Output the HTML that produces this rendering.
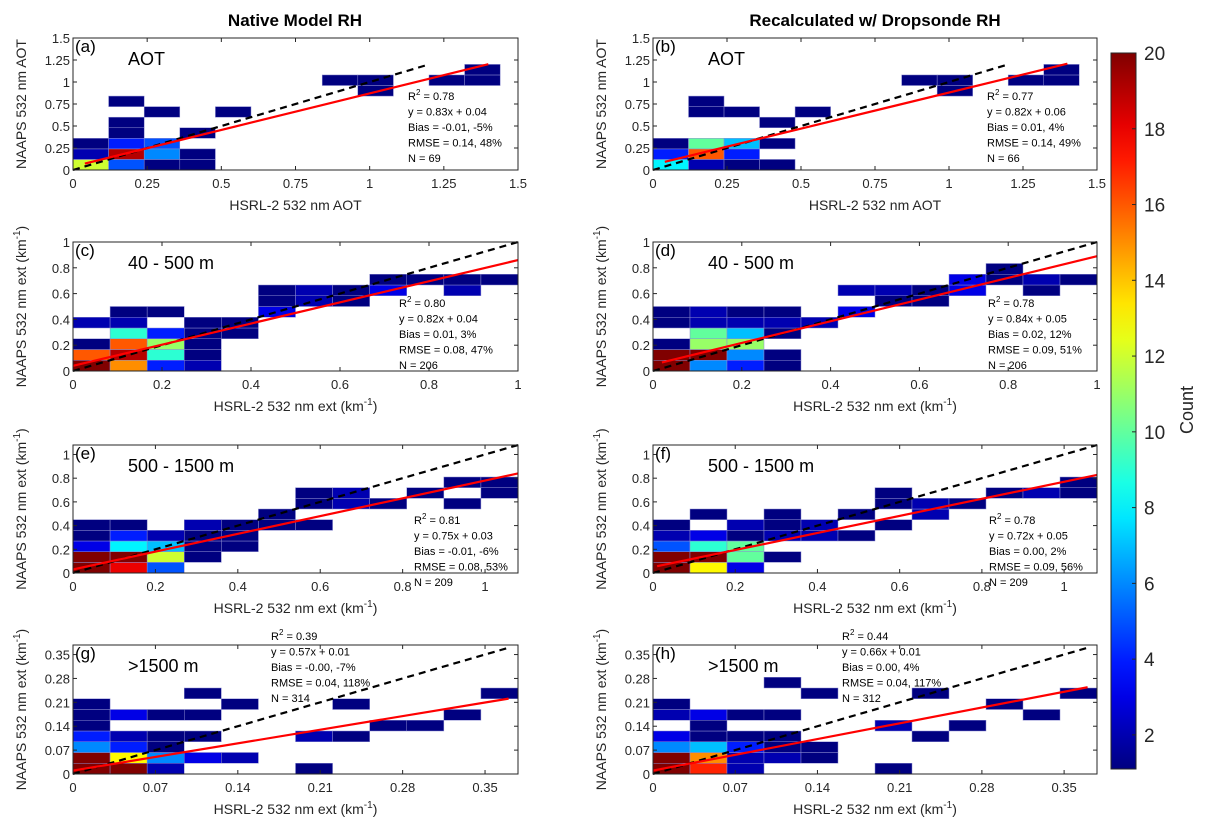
<!DOCTYPE html>
<html><head><meta charset="utf-8">
<style>
html,body{margin:0;padding:0;background:#fff;}
svg{display:block;font-family:"Liberation Sans",Arial,sans-serif;}
</style></head>
<body>
<svg id="fig" width="1207" height="839" viewBox="0 0 1207 839" xmlns="http://www.w3.org/2000/svg">
<text x="295" y="26" text-anchor="middle" font-size="17" font-weight="bold" fill="#000">Native Model RH</text>
<text x="875" y="26" text-anchor="middle" font-size="17" font-weight="bold" fill="#000">Recalculated w/ Dropsonde RH</text>
</svg>
<script>
// ---- data (grid cells: [xBin, yBin, count]) ----
const cellsA = [[0,0,12],[0,1,2],[0,2,1],[1,0,5],[1,1,19],[1,2,4],[1,3,1],[1,4,1],[1,6,1],[2,0,1],[2,1,6],[2,2,5],[2,5,1],[3,0,1],[3,1,1],[3,3,1],[4,5,1],[7,8,1],[8,8,1],[8,7,1],[10,8,1],[11,8,1],[11,9,1]];
const cellsB = [[0,0,8],[0,1,4],[0,2,1],[1,0,2],[1,1,16],[1,2,10],[1,5,1],[1,6,1],[2,0,1],[2,1,4],[2,2,7],[2,5,1],[3,0,1],[3,2,1],[3,4,1],[4,5,1],[7,8,1],[8,8,1],[8,7,1],[10,8,1],[11,8,1],[11,9,1]];
const cellsC = [[0,0,20],[1,0,15],[2,0,4],[3,0,2],[0,1,16],[1,1,19],[2,1,9],[3,1,1],[0,2,1],[1,2,16],[2,2,11],[3,2,1],[1,3,9],[2,3,4],[3,3,1],[4,3,1],[0,4,2],[1,4,2],[3,4,1],[4,4,1],[1,5,1],[2,5,1],[5,5,3],[5,6,1],[6,6,2],[7,6,1],[5,7,1],[6,7,2],[7,7,1],[8,7,3],[10,7,2],[8,8,1],[9,8,1],[10,8,1],[11,8,1]];
const cellsD = [[0,0,20],[1,0,6],[2,0,4],[3,0,1],[0,1,20],[1,1,20],[2,1,6],[3,1,1],[0,2,1],[1,2,11],[2,2,11],[1,3,10],[2,3,7],[3,3,1],[0,4,1],[1,4,2],[2,4,2],[3,4,2],[4,4,2],[0,5,1],[1,5,2],[2,5,1],[3,5,1],[5,5,3],[6,6,1],[7,6,1],[5,7,2],[6,7,2],[7,7,1],[8,7,3],[10,7,1],[8,8,3],[9,8,1],[10,8,2],[11,8,1],[9,9,1]];
const cellsE = [[0,0,20],[1,0,18],[2,0,5],[0,1,20],[1,1,20],[2,1,12],[3,1,1],[0,2,3],[1,2,8],[2,2,7],[3,2,1],[4,2,1],[0,3,1],[1,3,4],[2,3,2],[3,3,1],[4,3,1],[0,4,1],[1,4,1],[3,4,2],[4,4,1],[5,4,1],[6,4,1],[5,5,1],[6,6,1],[7,6,2],[8,6,1],[10,6,1],[6,7,1],[7,7,2],[9,7,1],[11,7,1],[10,8,1],[11,8,1]];
const cellsF = [[0,0,20],[1,0,13],[2,0,3],[0,1,20],[1,1,20],[2,1,10],[3,1,1],[0,2,5],[1,2,9],[2,2,10],[0,3,2],[1,3,3],[2,3,1],[3,3,2],[4,3,2],[5,3,1],[0,4,1],[2,4,2],[3,4,1],[4,4,2],[6,4,1],[1,5,1],[3,5,1],[5,5,1],[7,5,2],[6,6,1],[7,6,2],[8,6,1],[6,7,1],[9,7,1],[10,7,2],[11,7,1],[11,8,1]];
const cellsG = [[0,0,20],[1,0,20],[2,0,2],[6,0,1],[0,1,20],[1,1,13],[2,1,6],[3,1,3],[4,1,2],[0,2,6],[1,2,4],[2,2,1],[0,3,4],[1,3,2],[2,3,1],[3,3,1],[6,3,2],[7,3,1],[0,4,1],[8,4,1],[9,4,1],[0,5,1],[1,5,3],[2,5,1],[3,5,1],[10,5,1],[0,6,1],[4,6,1],[7,6,1],[11,7,1],[3,7,1]];
const cellsH = [[0,0,20],[1,0,17],[2,0,2],[6,0,1],[0,1,20],[1,1,15],[2,1,2],[3,1,2],[4,1,1],[0,2,6],[1,2,7],[2,2,4],[3,2,1],[4,2,1],[0,3,3],[1,3,1],[2,3,1],[3,3,1],[7,3,1],[1,4,1],[6,4,2],[8,4,1],[0,5,2],[1,5,3],[2,5,1],[3,5,1],[10,5,1],[0,6,1],[9,6,1],[4,7,1],[7,7,1],[11,7,1],[3,8,1]];
// fit lines: [slope, intercept, xStart, xEnd]
const fitA=[0.83,0.04,0.04,1.4], fitB=[0.82,0.06,0.04,1.4], fitC=[0.82,0.04,0,1], fitD=[0.84,0.05,0.02,1];
const fitE=[0.75,0.03,0,1.08], fitF=[0.72,0.05,0.01,1.08], fitG=[0.57,0.01,0,0.37], fitH=[0.66,0.01,0,0.37];
const oneToOneEnd = [1.2,1.2,1,1,1.08,1.08,0.37,0.37];
const ticksAOT=[0,0.25,0.5,0.75,1,1.25,1.5], tickLabAOT=["0","0.25","0.5","0.75","1","1.25","1.5"];
const ticksExt=[0,0.2,0.4,0.6,0.8,1], tickLabExt=["0","0.2","0.4","0.6","0.8","1"];
const ticksHigh=[0,0.07,0.14,0.21,0.28,0.35], tickLabHigh=["0","0.07","0.14","0.21","0.28","0.35"];
const statsA=["0.78","y = 0.83x + 0.04","Bias = -0.01, -5%","RMSE = 0.14, 48%","N = 69"];
const statsB=["0.77","y = 0.82x + 0.06","Bias = 0.01, 4%","RMSE = 0.14, 49%","N = 66"];
const statsC=["0.80","y = 0.82x + 0.04","Bias = 0.01, 3%","RMSE = 0.08, 47%","N = 206"];
const statsD=["0.78","y = 0.84x + 0.05","Bias = 0.02, 12%","RMSE = 0.09, 51%","N = 206"];
const statsE=["0.81","y = 0.75x + 0.03","Bias = -0.01, -6%","RMSE = 0.08, 53%","N = 209"];
const statsF=["0.78","y = 0.72x + 0.05","Bias = 0.00, 2%","RMSE = 0.09, 56%","N = 209"];
const statsG=["0.39","y = 0.57x + 0.01","Bias = -0.00, -7%","RMSE = 0.04, 118%","N = 314"];
const statsH=["0.44","y = 0.66x + 0.01","Bias = 0.00, 4%","RMSE = 0.04, 117%","N = 312"];
const cbarTicks=[2,4,6,8,10,12,14,16,18,20];
const cMin=1.1, cMax=20;

const NS="http://www.w3.org/2000/svg";
const svg=document.getElementById('fig');
function mk(tag,attrs,parent){const e=document.createElementNS(NS,tag);for(const k in attrs)e.setAttribute(k,attrs[k]);(parent||svg).appendChild(e);return e;}
function jet(v){let f=(v-cMin)/(cMax-cMin);f=Math.max(0,Math.min(1,f));
 const c=x=>Math.max(0,Math.min(1,x));
 const r=c(1.5-Math.abs(4*f-3)),g=c(1.5-Math.abs(4*f-2)),b=c(1.5-Math.abs(4*f-1));
 return `rgb(${Math.round(r*255)},${Math.round(g*255)},${Math.round(b*255)})`;}

const colX=[[73,518],[653,1097]];
const rowY=[[38,170],[242,371],[445,573],[645,774]];
const panels=[
 {id:'a',col:0,row:0,cells:cellsA,fit:fitA,max:1.5,bin:0.12,ticks:ticksAOT,tl:tickLabAOT,title:'AOT',stats:statsA,sx:408,sy:100,kind:'aot'},
 {id:'b',col:1,row:0,cells:cellsB,fit:fitB,max:1.5,bin:0.12,ticks:ticksAOT,tl:tickLabAOT,title:'AOT',stats:statsB,sx:987,sy:100,kind:'aot'},
 {id:'c',col:0,row:1,cells:cellsC,fit:fitC,max:1,bin:1/12,ticks:ticksExt,tl:tickLabExt,title:'40 - 500 m',stats:statsC,sx:399,sy:307,kind:'ext'},
 {id:'d',col:1,row:1,cells:cellsD,fit:fitD,max:1,bin:1/12,ticks:ticksExt,tl:tickLabExt,title:'40 - 500 m',stats:statsD,sx:988,sy:307,kind:'ext'},
 {id:'e',col:0,row:2,cells:cellsE,fit:fitE,max:1.08,bin:0.09,ticks:ticksExt,tl:tickLabExt,title:'500 - 1500 m',stats:statsE,sx:414,sy:524,kind:'ext'},
 {id:'f',col:1,row:2,cells:cellsF,fit:fitF,max:1.08,bin:0.09,ticks:ticksExt,tl:tickLabExt,title:'500 - 1500 m',stats:statsF,sx:989,sy:524,kind:'ext'},
 {id:'g',col:0,row:3,cells:cellsG,fit:fitG,max:0.378,bin:0.0315,ticks:ticksHigh,tl:tickLabHigh,title:'>1500 m',stats:statsG,sx:271,sy:640,kind:'ext'},
 {id:'h',col:1,row:3,cells:cellsH,fit:fitH,max:0.378,bin:0.0315,ticks:ticksHigh,tl:tickLabHigh,title:'>1500 m',stats:statsH,sx:842,sy:640,kind:'ext'}
];
panels.forEach((p,pi)=>{
 const [x0,x1]=colX[p.col],[y0,y1]=rowY[p.row];
 const X=v=>x0+(x1-x0)*v/p.max, Y=v=>y1-(y1-y0)*v/p.max;
 const g=mk('g',{});
 
 
 const clip=mk('clipPath',{id:'clip'+p.id},g);mk('rect',{x:x0,y:y0,width:x1-x0,height:y1-y0},clip);
 const cg=mk('g',{'clip-path':`url(#clip${p.id})`},g);
 p.cells.forEach(c=>{
  const r=mk('rect',{x:X(c[0]*p.bin),y:Y((c[1]+1)*p.bin),width:X((c[0]+1)*p.bin)-X(c[0]*p.bin),height:Y(c[1]*p.bin)-Y((c[1]+1)*p.bin),fill:jet(c[2]),stroke:'#8c8cd0','stroke-width':0.5},cg);
  
  
 });
 const e1=oneToOneEnd[pi];
 const dl=mk('line',{x1:X(0),y1:Y(0),x2:X(e1),y2:Y(e1),stroke:'#000','stroke-width':2.2,'stroke-dasharray':'7,5'},g);
 
 
 const f=p.fit;
 const fl=mk('line',{x1:X(f[2]),y1:Y(f[0]*f[2]+f[1]),x2:X(f[3]),y2:Y(f[0]*f[3]+f[1]),stroke:'#ff0000','stroke-width':2.2},g);
 
 
 const box=mk('rect',{x:x0,y:y0,width:x1-x0,height:y1-y0,fill:'none',stroke:'#262626','stroke-width':1},g);
 
 
 p.ticks.forEach((t,i)=>{
  if(t>p.max+1e-9)return;
  mk('line',{x1:X(t),y1:y1,x2:X(t),y2:y1-4,stroke:'#262626'},g);
  mk('line',{x1:X(t),y1:y0,x2:X(t),y2:y0+4,stroke:'#262626'},g);
  mk('line',{x1:x0,y1:Y(t),x2:x0+4,y2:Y(t),stroke:'#262626'},g);
  mk('line',{x1:x1,y1:Y(t),x2:x1-4,y2:Y(t),stroke:'#262626'},g);
  const tx=mk('text',{x:X(t),y:y1+18,'text-anchor':'middle','font-size':13,fill:'#262626'},g);tx.textContent=p.tl[i];
  
  
  const ty=mk('text',{x:x0-3,y:Y(t)+5,'text-anchor':'end','font-size':13,fill:'#262626'},g);ty.textContent=p.tl[i];
  
  
 });
 const pl=mk('text',{x:x0+2,y:y0+14,'font-size':17,fill:'#000'},g);pl.textContent='('+p.id+')';
 
 
 const tt=mk('text',{x:x0+55,y:y0+27,'font-size':18,fill:'#000'},g);tt.textContent=p.title;
 
 
 p.stats.forEach((s,i)=>{
  const st=mk('text',{x:p.sx,y:p.sy+i*15.5,'font-size':11,fill:'#000'},g);
  
  
  if(i===0){st.innerHTML='R<tspan font-size="8" dy="-5">2</tspan><tspan dy="5"> = '+s+'</tspan>';}
  else st.textContent=s;
 });
 const cx=(x0+x1)/2, xl=mk('text',{x:cx,y:y1+40,'text-anchor':'middle','font-size':14,fill:'#262626'},g);
 
 
 const ylx=x0-47, cy=(y0+y1)/2;
 const yl=mk('text',{x:ylx,y:cy,'text-anchor':'middle','font-size':14,fill:'#262626',transform:`rotate(-90 ${ylx} ${cy})`},g);
 
 
 if(p.kind==='aot'){xl.textContent='HSRL-2 532 nm AOT';yl.textContent='NAAPS 532 nm AOT';}
 else{xl.innerHTML='HSRL-2 532 nm ext (km<tspan font-size="10" dy="-6">-1</tspan><tspan dy="6">)</tspan>';
      yl.innerHTML='NAAPS 532 nm ext (km<tspan font-size="10" dy="-6">-1</tspan><tspan dy="6">)</tspan>';}
});
// colorbar
const cbX=1111,cbW=25,cbTop=53,cbBot=769;
const CY=v=>cbBot-(cbBot-cbTop)*(v-cMin)/(cMax-cMin);
const defs=mk('defs',{});const lg=mk('linearGradient',{id:'jetg',x1:0,y1:1,x2:0,y2:0},defs);
for(let i=0;i<=20;i++){const v=cMin+(cMax-cMin)*i/20;mk('stop',{offset:(i/20),'stop-color':jet(v)},lg);}
const cb=mk('rect',{x:cbX,y:cbTop,width:cbW,height:cbBot-cbTop,fill:'url(#jetg)',stroke:'#262626','stroke-width':1});


cbarTicks.forEach(t=>{
 mk('line',{x1:cbX+cbW,y1:CY(t),x2:cbX+cbW-4,y2:CY(t),stroke:'#262626'});
 const tl=mk('text',{x:cbX+cbW+8,y:CY(t)+7,'font-size':19,fill:'#262626'});tl.textContent=t;
 
 
});
const cl=mk('text',{x:1193,y:410,'text-anchor':'middle','font-size':18,fill:'#262626',transform:'rotate(-90 1193 410)'});
cl.textContent='Count';


</script>
</body></html>
